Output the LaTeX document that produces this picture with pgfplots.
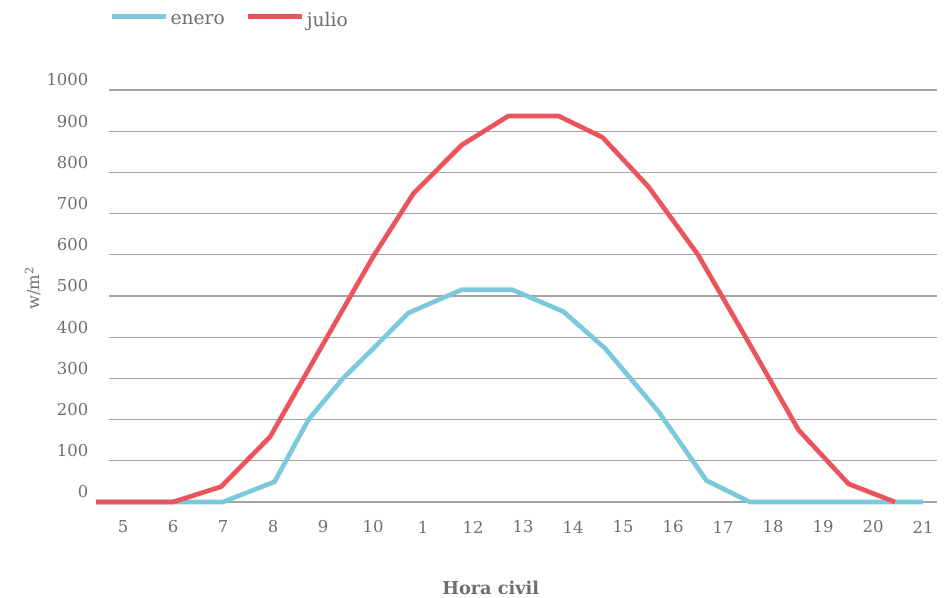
\documentclass[border=0pt]{standalone}
\usepackage{fontspec}
\setmainfont{DejaVu Serif}
\usepackage{pgfplots}
\pgfplotsset{compat=1.18}

\definecolor{enero}{HTML}{7CC9DE}
\definecolor{julio}{HTML}{EC545D}
\definecolor{txt}{HTML}{6E6E6E}
\definecolor{gridc}{HTML}{A3A3A3}

% Irradiancia (W/m2) a lo largo del dia
\pgfplotstableread{
x     y
-0.54 0
1.00  0
2.00  0
3.03  49
3.71  200
4.40  300
5.00  372
5.71  459
6.77  515
7.79  515
8.81  462
9.64  373
10.70 221
11.67 52
12.54 0
16.00 0
}\enero

\pgfplotstableread{
x     y
-0.54 0
1.00  0
1.96  37
2.94  158
4.00  383
5.00  595
5.81  749
6.77  866
7.71  937
8.71  937
9.59  885
10.51 765
11.50 600
12.50 390
13.51 175
14.51 44
15.44 0
}\julio

\begin{document}
\begin{tikzpicture}
\path[use as bounding box] (0,0) rectangle (708pt,448.5pt);
\begin{axis}[
  at={(81.75pt,72pt)}, anchor=south west,
  scale only axis, width=621pt, height=309pt,
  xmin=-0.28, xmax=16.28, ymin=0, ymax=1000,
  clip=false,
  axis line style={draw=none},
  major tick length=0pt,
  ytick={0,100,...,1000},
  xtick={0,...,16},
  xticklabels={5,6,7,8,9,10,1,12,13,14,15,16,17,18,19,20,21},
  ymajorgrids,
  grid style={gridc, line width=0.9pt},
  tick label style={font=\fontsize{12.3}{14}\selectfont, text=txt},
  yticklabel style={anchor=east, xshift=-12pt, yshift=7.5pt},
  xticklabel style={anchor=center, yshift=-18.75pt},
  /pgf/number format/assume math mode=true,
  /pgf/number format/1000 sep={},
  ylabel={w/m\textsuperscript{2}},
  every axis y label/.style={at={(axis description cs:-0.092,0.519)}, rotate=90, anchor=center, font=\fontsize{12.3}{14}\selectfont, text=txt},
  xlabel={Hora civil},
  every axis x label/.style={at={(axis description cs:0.461,-0.209)}, anchor=center, font=\fontsize{13.3}{15}\selectfont\bfseries, text=txt},
  legend columns=2,
  legend image code/.code={\draw[#1] (0pt,3pt) -- (40.5pt,3pt);},
  legend style={draw=none, fill=none, inner sep=0pt,
    at={(axis description cs:0,1)}, anchor=west, yshift=52pt,
    font=\fontsize{14}{16}\selectfont, text=txt,
    /tikz/every even column/.append style={column sep=13.5pt}},
  every axis plot/.append style={line width=3.5pt, line join=round},
]
\addplot[enero] table {\enero};
\addlegendentry{enero}
\addplot[julio] table {\julio};
\addlegendentry{julio}
\end{axis}
\end{tikzpicture}
\end{document}
